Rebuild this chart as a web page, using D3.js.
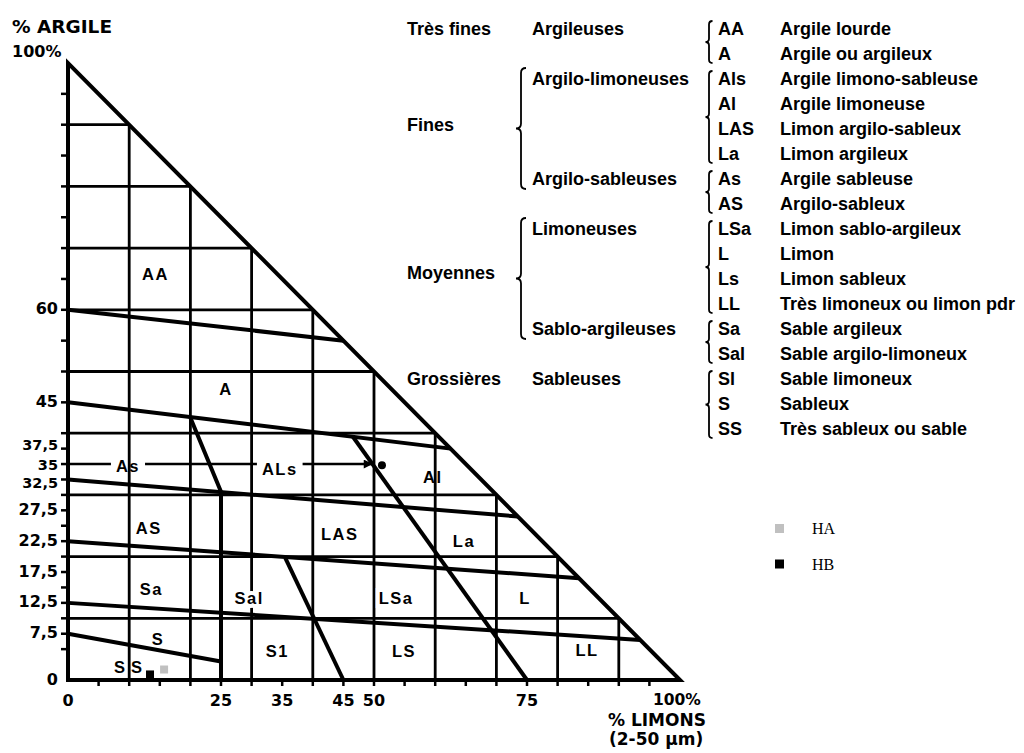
<!DOCTYPE html>
<html>
<head>
<meta charset="utf-8">
<script src="https://cdn.jsdelivr.net/npm/d3@7"></script>
<style>
  body { margin: 0; background: #fff; }
  svg { display: block; }
</style>
</head>
<body>
<svg id="chart" width="1024" height="753"></svg>
<script>
// All chart coordinates are [limon %, argile %].
const gridSteps = [10, 20, 30, 40, 50, 60, 70, 80, 90];

// Class boundaries of the texture triangle
const boundaryLines = [
  [[0, 60], [45, 55]],
  [[0, 45], [62.5, 37.5]],
  [[0, 32.5], [73.5, 26.5]],
  [[0, 22.5], [83.5, 16.5]],
  [[0, 12.5], [93.5, 6.5]],
  [[0, 7.5], [25, 3]],
  [[20, 42.5], [25, 30.5], [25, 0]],
  [[46.5, 39.5], [75, 0]],
  [[35.5, 19.8], [45, 0]]
];

// Arrow along the 35 % clay line and the point it designates
const arrowLine = [[0, 35], [49.8, 35]];
const markedPoint = [51.3, 34.8];

// Zone codes written inside the triangle
const zoneCodes = ["AA", "A", "As", "ALs", "Al", "AS", "LAS", "La", "Sa", "Sal", "LSa", "L", "S", "SS", "S1", "LS", "LL"];
const zoneLimon = [14.3, 25.8, 9.8, 34.6, 59.6, 13.2, 44.4, 64.7, 13.6, 29.6, 53.6, 74.7, 14.7, 10.3, 34.2, 54.9, 84.8];
const zoneArgile = [65.8, 47.2, 34.7, 34.2, 32.9, 24.6, 23.7, 22.5, 14.7, 13.3, 13.3, 13.3, 6.6, 2.1, 4.7, 4.7, 4.9];

// Axis ticks and labels
const yTicks = [5, 7.5, 10, 12.5, 15, 17.5, 20, 22.5, 25, 27.5, 30, 32.5, 35, 37.5, 40, 45, 50, 55, 60, 65, 70, 75, 80, 85, 90, 95];
const yLabels = [0, 7.5, 12.5, 17.5, 22.5, 27.5, 32.5, 35, 37.5, 45, 60];
const xTicks = [5, 10, 15, 20, 25, 30, 35, 40, 45, 50, 55, 60, 65, 70, 75, 80, 85, 90, 95];
const xLabels = [0, 25, 35, 45, 50, 75];

// Samples
const sampleNames = ["HA", "HB"];
const sampleLimon = [15.7, 13.4];
const sampleArgile = [1.7, 0.9];
const sampleColors = ["#c0c0c0", "#000000"];

// Texture classes legend
const sizeGroups = ["Très fines", "Fines", "Moyennes", "Grossières"];
const sizeGroupRows = [0, 3.85, 9.75, 14];
const subGroups = ["Argileuses", "Argilo-limoneuses", "Argilo-sableuses", "Limoneuses", "Sablo-argileuses", "Sableuses"];
const subGroupSpans = [[0, 1], [2, 5], [6, 7], [8, 11], [12, 13], [14, 16]];
const classCodes = ["AA", "A", "Als", "Al", "LAS", "La", "As", "AS", "LSa", "L", "Ls", "LL", "Sa", "Sal", "Sl", "S", "SS"];
const classNames = ["Argile lourde", "Argile ou argileux", "Argile limono-sableuse", "Argile limoneuse",
  "Limon argilo-sableux", "Limon argileux", "Argile sableuse", "Argilo-sableux", "Limon sablo-argileux",
  "Limon", "Limon sableux", "Très limoneux ou limon pdr", "Sable argileux", "Sable argilo-limoneux",
  "Sable limoneux", "Sableux", "Très sableux ou sable"];

const svg = d3.select("#chart");
const x = d3.scaleLinear().domain([0, 100]).range([68, 680]);
const y = d3.scaleLinear().domain([0, 100]).range([680, 63]);
const line = d3.line().x(d => x(d[0])).y(d => y(d[1]));

const SANS = "'Liberation Sans', Arial, Helvetica, sans-serif";
const AXIS = "'DejaVu Sans', Verdana, sans-serif";

svg.append("defs").append("marker")
  .attr("id", "arrowhead").attr("viewBox", "0 0 10 10")
  .attr("refX", 10).attr("refY", 5)
  .attr("markerWidth", 11).attr("markerHeight", 9)
  .attr("markerUnits", "userSpaceOnUse").attr("orient", "auto")
  .append("path").attr("d", "M0,0 L10,5 L0,10 Z").attr("fill", "#000");

const arrowLayer = svg.append("g");
const gapLayer = svg.append("g");
const gridLayer = svg.append("g");
const boundaryLayer = svg.append("g");
const labelLayer = svg.append("g");

// 35 % arrow
arrowLayer.append("path")
  .attr("d", line(arrowLine))
  .attr("fill", "none").attr("stroke", "#000").attr("stroke-width", 2.4)
  .attr("marker-end", "url(#arrowhead)");
labelLayer.append("circle")
  .attr("cx", x(markedPoint[0])).attr("cy", y(markedPoint[1])).attr("r", 4)
  .attr("fill", "#000");

// Grid every 10 %, clipped by the hypotenuse
gridSteps.forEach(v => {
  gridLayer.append("path").attr("d", line([[0, v], [100 - v, v]]));
  gridLayer.append("path").attr("d", line([[v, 0], [v, 100 - v]]));
});
gridLayer.selectAll("path").attr("fill", "none").attr("stroke", "#000").attr("stroke-width", 2.8);

// Class boundaries
boundaryLayer.selectAll("path.b").data(boundaryLines).join("path")
  .attr("class", "b")
  .attr("d", line)
  .attr("fill", "none").attr("stroke", "#000").attr("stroke-width", 4)
  .attr("stroke-linejoin", "round");

// Triangle frame
boundaryLayer.append("path")
  .attr("d", line([[0, 100], [0, 0], [100, 0]]) + "Z")
  .attr("fill", "none").attr("stroke", "#000").attr("stroke-width", 4)
  .attr("stroke-linejoin", "miter");

// Ticks
boundaryLayer.selectAll("line.yt").data(yTicks).join("line")
  .attr("class", "yt")
  .attr("x1", x(0) - 7).attr("x2", x(0))
  .attr("y1", d => y(d)).attr("y2", d => y(d))
  .attr("stroke", "#000").attr("stroke-width", 2.5);
boundaryLayer.selectAll("line.xt").data(xTicks).join("line")
  .attr("class", "xt")
  .attr("x1", d => x(d)).attr("x2", d => x(d))
  .attr("y1", y(0)).attr("y2", y(0) + 6)
  .attr("stroke", "#000").attr("stroke-width", 2.5);

// Axis labels; the three crowded ones near 35 % are nudged apart
const fmt = v => String(v).replace(".", ",");
const nudge = v => (v === 37.5 ? -4 : v === 35 ? 1 : v === 32.5 ? 4 : -1);
labelLayer.selectAll("text.yl").data(yLabels).join("text")
  .attr("class", "yl")
  .attr("x", 58).attr("y", d => y(d) + nudge(d))
  .attr("text-anchor", "end").attr("dominant-baseline", "central")
  .attr("font-family", AXIS).attr("font-weight", "bold")
  .attr("font-size", d => (d === 37.5 || d === 35 || d === 32.5) ? 14.5 : 16)
  .text(fmt);
labelLayer.selectAll("text.xl").data(xLabels).join("text")
  .attr("class", "xl")
  .attr("x", d => x(d)).attr("y", 706)
  .attr("text-anchor", "middle")
  .attr("font-family", AXIS).attr("font-weight", "bold").attr("font-size", 16)
  .text(fmt);
labelLayer.append("text").attr("x", 653).attr("y", 705)
  .attr("font-family", AXIS).attr("font-weight", "bold").attr("font-size", 15.5)
  .text("100%");
labelLayer.append("text").attr("x", 12).attr("y", 57)
  .attr("font-family", AXIS).attr("font-weight", "bold").attr("font-size", 16)
  .text("100%");
labelLayer.append("text").attr("x", 12).attr("y", 33)
  .attr("font-family", AXIS).attr("font-weight", "bold").attr("font-size", 18.5)
  .text("% ARGILE");
labelLayer.append("text").attr("x", 608).attr("y", 726)
  .attr("font-family", AXIS).attr("font-weight", "bold").attr("font-size", 17)
  .text("% LIMONS");
labelLayer.append("text").attr("x", 609).attr("y", 745)
  .attr("font-family", AXIS).attr("font-weight", "bold").attr("font-size", 17)
  .text("(2-50 µm)");

// Zone codes
const zoneText = labelLayer.selectAll("text.zone").data(zoneCodes).join("text")
  .attr("class", "zone")
  .attr("x", (d, i) => x(zoneLimon[i])).attr("y", (d, i) => y(zoneArgile[i]))
  .attr("text-anchor", "middle").attr("dominant-baseline", "central")
  .attr("font-family", SANS).attr("font-weight", "bold").attr("font-size", 16.5)
  .attr("letter-spacing", d => d === "SS" ? 6 : 1.5)
  .text(d => d);
zoneText.filter(d => d === "Sal" || d === "LSa")
  .attr("stroke", "#fff").attr("stroke-width", 8).attr("paint-order", "stroke");

// Break the 35 % line around the codes written on it
zoneText.filter(d => d === "As" || d === "ALs").each(function () {
  const b = this.getBBox();
  gapLayer.append("rect")
    .attr("x", b.x - 5).attr("y", y(35) - 4)
    .attr("width", b.width + 10).attr("height", 8)
    .attr("fill", "#fff");
});

// Samples
labelLayer.selectAll("rect.sample").data(sampleNames).join("rect")
  .attr("class", "sample")
  .attr("x", (d, i) => x(sampleLimon[i]) - 4).attr("y", (d, i) => y(sampleArgile[i]) - 4)
  .attr("width", 8).attr("height", 8)
  .attr("fill", (d, i) => sampleColors[i]);

// Sample legend
const sampleLegend = svg.append("g").selectAll("g").data(sampleNames).join("g")
  .attr("transform", (d, i) => `translate(775,${524 + i * 35.5})`);
sampleLegend.append("rect").attr("width", 9).attr("height", 9)
  .attr("fill", (d, i) => sampleColors[i]);
sampleLegend.append("text").attr("x", 37).attr("y", 4.5)
  .attr("dominant-baseline", "central")
  .attr("font-family", "'Liberation Serif', 'Times New Roman', serif").attr("font-size", 16)
  .text(d => d);

// Texture classes legend
const rowY = i => 35 + 25 * i;
const legend = svg.append("g")
  .attr("font-family", SANS).attr("font-weight", "bold").attr("font-size", 18)
  .attr("fill", "#000");

legend.selectAll("text.size").data(sizeGroups).join("text")
  .attr("class", "size")
  .attr("x", 407).attr("y", (d, i) => rowY(sizeGroupRows[i])).text(d => d);
legend.selectAll("text.sub").data(subGroups).join("text")
  .attr("class", "sub")
  .attr("x", 532).attr("y", (d, i) => rowY(subGroupSpans[i][0])).text(d => d);
legend.selectAll("text.code").data(classCodes).join("text")
  .attr("class", "code")
  .attr("x", 718).attr("y", (d, i) => rowY(i)).text(d => d);
legend.selectAll("text.name").data(classNames).join("text")
  .attr("class", "name")
  .attr("x", 780).attr("y", (d, i) => rowY(i)).text(d => d);

// Curly brace opening to the right, tip pointing left
function brace(xs, y0, y1, w) {
  const ym = (y0 + y1) / 2;
  const p = d3.path();
  p.moveTo(xs + w, y0);
  p.quadraticCurveTo(xs, y0, xs, y0 + w);
  p.lineTo(xs, ym - w);
  p.quadraticCurveTo(xs, ym, xs - w, ym);
  p.quadraticCurveTo(xs, ym, xs, ym + w);
  p.lineTo(xs, y1 - w);
  p.quadraticCurveTo(xs, y1, xs + w, y1);
  return p.toString();
}
const braceLayer = svg.append("g")
  .attr("fill", "none").attr("stroke", "#000").attr("stroke-width", 1.8);
// Braces grouping the sub-groups of "Fines" and "Moyennes"
[[1, 2], [3, 4]].forEach(([a, b]) => {
  braceLayer.append("path").attr("d", brace(521, rowY(subGroupSpans[a][0]) - 17, rowY(subGroupSpans[b][0]) + 4, 5));
});
// Braces grouping the classes of each sub-group
subGroupSpans.forEach(([a, b]) => {
  braceLayer.append("path").attr("d", brace(709, rowY(a) - 14, rowY(b) + 3, 3.5));
});
</script>
</body>
</html>
